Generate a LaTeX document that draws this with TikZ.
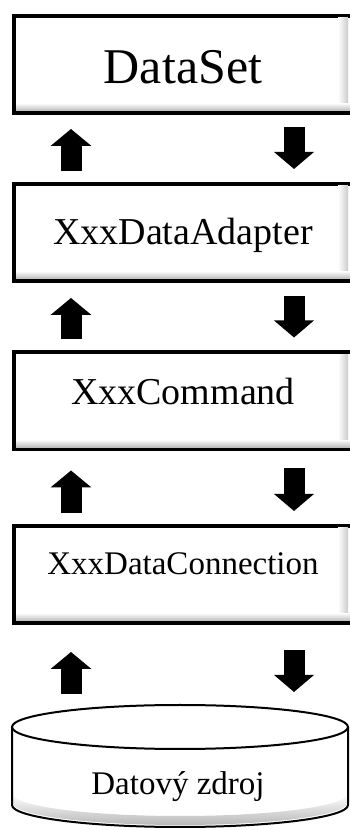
\documentclass[tikz,border=0pt]{standalone}
\usepackage{fontspec}
\setmainfont{Liberation Serif}
\usetikzlibrary{arrows.meta, calc}

\begin{document}
\begin{tikzpicture}[x=1pt, y=1pt,
    box/.style={draw, line width=4pt, fill=white, minimum width=338pt, minimum height=97pt, inner sep=0pt, text depth=0pt},
    uparr/.style={line width=21pt, -{Triangle[length=17pt, width=40pt]}, shorten <=11pt},
    downarr/.style={line width=21pt, -{Triangle[length=17pt, width=39pt]}, shorten >=13pt},
    cyl/.style={line width=2pt}]

\useasboundingbox (0,0) rectangle (350,830);

% Layers, top to bottom
\node[box, font=\fontsize{50}{50}\selectfont, text height=38pt] (ds) at (183,765.5) {DataSet};
\node[box, font=\fontsize{38}{38}\selectfont, text height=25pt] (da) at (183,597.5) {XxxDataAdapter};
\node[box, font=\fontsize{38}{38}\selectfont, text height=8pt] (cmd) at (183,429) {XxxCommand};
\node[box, font=\fontsize{33}{33}\selectfont, text height=0pt] (conn) at (183,255.5) {XxxDataConnection};

% Inner shadow of the boxes
\foreach \b in {ds,da,cmd,conn} {
    \shade[top color=white, bottom color=gray!55] ([shift={(4pt,4pt)}]\b.south west) rectangle ([shift={(-4pt,12pt)}]\b.south east);
    \shade[left color=white, right color=gray!40] ([shift={(-16pt,12pt)}]\b.south east) rectangle ([shift={(-6pt,-4pt)}]\b.north east);
}

% Data source (cylinder)
\fill[white] (12,103) -- (12,25) arc[start angle=180, end angle=360, x radius=168, y radius=22] -- (348,103) -- cycle;
\shade[top color=white, bottom color=gray!55] (13,27) arc[start angle=180, end angle=360, x radius=167, y radius=22] -- (347,36) arc[start angle=0, end angle=-180, x radius=167, y radius=22] -- cycle;
\draw[cyl] (12,103) -- (12,25) arc[start angle=180, end angle=360, x radius=168, y radius=22] -- (348,103);
\draw[cyl, fill=white] (180,103) ellipse[x radius=168, y radius=22];
\node[anchor=base, font=\fontsize{33}{33}\selectfont] (src) at (178,35) {Datový zdroj};
\coordinate (srctop) at (180,125);

% Arrows between layers
\coordinate (upx) at (71,0);
\coordinate (downx) at (294,0);
\foreach \hi/\lo/\ua/\da in {ds.south/da.north/14pt/12pt, da.south/cmd.north/15pt/13pt, cmd.south/conn.north/19pt/17pt, conn.south/srctop/27pt/25pt} {
    \draw[uparr, shorten >=\ua] (upx |- \lo) -- (upx |- \hi);
    \draw[downarr, shorten <=\da] (downx |- \hi) -- (downx |- \lo);
}
\end{tikzpicture}
\end{document}
